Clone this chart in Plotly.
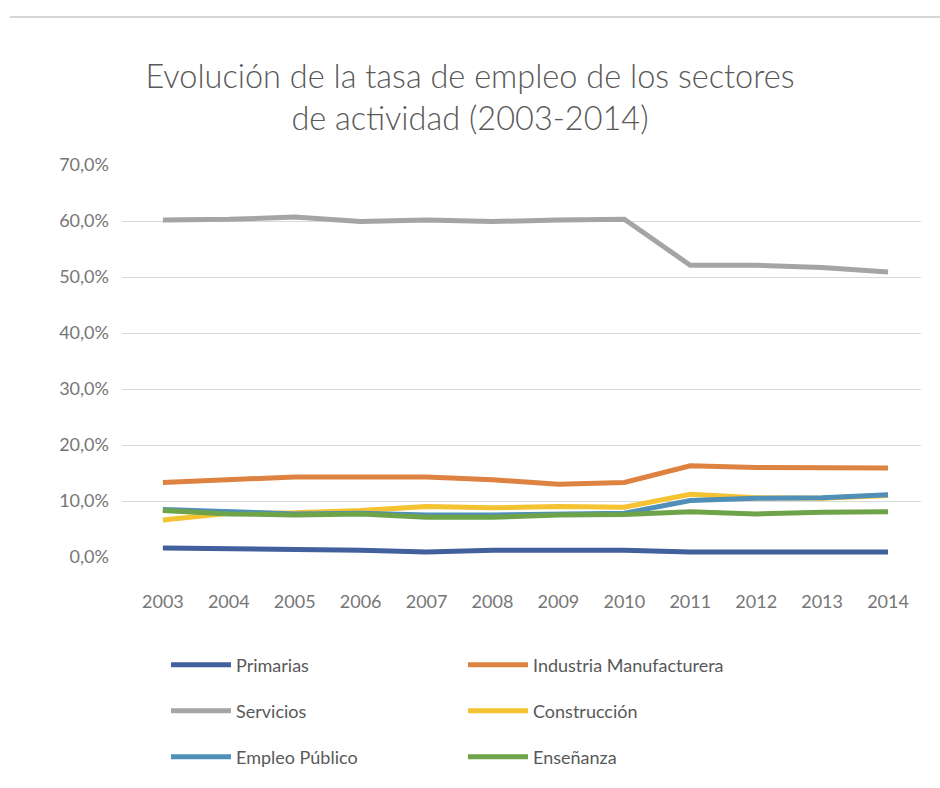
import plotly.graph_objects as go

# Employment rate by activity sector, 2003-2014 (share of total employment)
years = [2003, 2004, 2005, 2006, 2007, 2008, 2009, 2010, 2011, 2012, 2013, 2014]

primarias = [0.016, 0.015, 0.012, 0.012, 0.009, 0.012, 0.012, 0.012, 0.009, 0.009, 0.009, 0.009]
industria = [0.133, 0.138, 0.143, 0.143, 0.143, 0.138, 0.130, 0.133, 0.163, 0.160, 0.160, 0.159]
servicios = [0.602, 0.603, 0.607, 0.599, 0.602, 0.599, 0.602, 0.603, 0.521, 0.521, 0.517, 0.509]
construccion = [0.066, 0.078, 0.079, 0.083, 0.090, 0.088, 0.090, 0.089, 0.112, 0.106, 0.105, 0.110]
empleo_publico = [0.085, 0.080, 0.077, 0.078, 0.075, 0.075, 0.077, 0.078, 0.101, 0.105, 0.106, 0.111]
ensenanza = [0.083, 0.077, 0.075, 0.077, 0.071, 0.071, 0.075, 0.076, 0.081, 0.077, 0.080, 0.081]

# (name, values, colour, legend row)
series = [
    ("Primarias", primarias, "#42609c", "legend"),
    ("Industria Manufacturera", industria, "#dd8240", "legend"),
    ("Servicios", servicios, "#a5a5a5", "legend2"),
    ("Construcción", construccion, "#f5c232", "legend2"),
    ("Empleo Público", empleo_publico, "#4f8fb8", "legend3"),
    ("Enseñanza", ensenanza, "#6ea34a", "legend3"),
]

y_ticks = [0.0, 0.1, 0.2, 0.3, 0.4, 0.5, 0.6, 0.7]
y_tick_labels = ["0,0%", "10,0%", "20,0%", "30,0%", "40,0%", "50,0%", "60,0%", "70,0%"]

FONT = "Lato, Open Sans, sans-serif"
TITLE_GREY = "#595959"
TICK_GREY = "#767676"

# plot area in pixels
L, R, T, B = 122, 19, 165, 231
PW, PH = 940 - L - R, 788 - T - B

fig = go.Figure()
for name, vals, color, leg in series:
    fig.add_trace(go.Scatter(
        x=years, y=vals, name=name, mode="lines",
        line=dict(color=color, width=5),
        legend=leg,
    ))


def legend_row(y_px):
    return dict(
        orientation="h",
        x=(166 - L) / PW, xanchor="left",
        y=-(y_px - (788 - B)) / PH, yanchor="middle",
        entrywidth=222, entrywidthmode="pixels",
        itemwidth=60,
        font=dict(family=FONT, size=18, color=TITLE_GREY),
        bgcolor="rgba(0,0,0,0)",
    )


fig.update_layout(
    width=940, height=788,
    paper_bgcolor="white", plot_bgcolor="white",
    margin=dict(l=L, r=R, t=T, b=B),
    title=dict(
        text="Evolución de la tasa de empleo de los sectores<br>de actividad (2003-2014)",
        x=0.5, xanchor="center", xref="container",
        y=1 - 88 / 788, yanchor="middle",
        font=dict(family=FONT, size=32.5, color=TITLE_GREY, weight=300),
    ),
    showlegend=True,
    legend=legend_row(665),
    legend2=legend_row(711),
    legend3=legend_row(757),
    shapes=[dict(
        type="line", xref="paper", yref="paper",
        x0=-112 / PW, x1=1.03, y0=1 + (T - 17) / PH, y1=1 + (T - 17) / PH,
        line=dict(color="#d6d6d6", width=2),
    )],
)

fig.update_xaxes(
    range=[2002.38, 2014.5],
    tickmode="array", tickvals=years, ticktext=[str(y) for y in years],
    showgrid=False, zeroline=False, showline=False,
    ticks="", ticklabelstandoff=32,
    tickfont=dict(family=FONT, size=18, color=TICK_GREY),
)
fig.update_yaxes(
    range=[0, 0.7],
    tickmode="array", tickvals=y_ticks, ticktext=y_tick_labels,
    showgrid=True, gridcolor="#d9d9d9", gridwidth=1,
    zeroline=False, showline=False, ticks="", ticklabelstandoff=12,
    tickfont=dict(family=FONT, size=18, color=TICK_GREY),
)

fig.write_html("out.html")
